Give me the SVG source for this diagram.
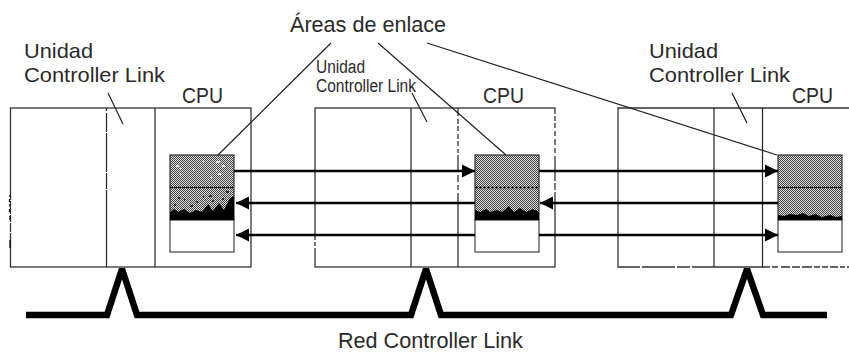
<svg xmlns="http://www.w3.org/2000/svg" width="849" height="352" viewBox="0 0 849 352">
<style>
text{font-family:"Liberation Sans",Arial,sans-serif;font-size:21.6px;fill:#2a2a2a}
.s{font-size:18px}
.u{font-size:21px}
.b{fill:none;stroke:#333;stroke-width:1.3}
.l{fill:none;stroke:#222;stroke-width:1.2}
.a{fill:url(#chk);stroke:#333;stroke-width:1.2}
.w{fill:#fff;stroke:#444;stroke-width:1.2}
.m{fill:none;stroke:#111;stroke-width:1.3;stroke-dasharray:3 1}
.k{fill:#000}
.e{fill:none;stroke:#fff;stroke-width:2}
.n{fill:none;stroke:#111;stroke-width:1.3}
.f{fill:none;stroke:#000;stroke-width:2.5}
.bus{fill:none;stroke:#000;stroke-width:6.5;stroke-miterlimit:3}
</style>
<defs>
<pattern id="chk" width="2" height="2" patternUnits="userSpaceOnUse"><rect width="2" height="2" fill="#ddd"/><rect width="1" height="1" fill="#444"/><rect x="1" y="1" width="1" height="1" fill="#444"/></pattern>
<marker id="h" markerWidth="14" markerHeight="14" refX="13" refY="7" orient="auto-start-reverse" markerUnits="userSpaceOnUse"><path d="M0 0.500L13 7L0 13.500Z" fill="#000"/></marker>
</defs>
<g id="node-plc-1">
<rect class="b" x="10.500" y="108" width="240.500" height="159"/>
<path class="l" d="M106.500 108V267M155 108V267"/>
<path class="e" d="M106.500 111v2M106.500 132v1M106.500 172v1M106.500 189v1M10.500 200v1M10.500 206v1M10.500 214v1M10.500 222v1M10.500 232v1"/>
<path class="n" d="M10 195v2M9.500 199v3M10 204v3M9.500 209v3M10 216v4M10 240v8"/>
<rect class="a" x="170" y="155" width="64" height="65"/>
<rect class="w" x="170" y="220" width="64" height="32"/>
<path class="m" d="M170 187.500H234"/>
<path class="k" d="M170 220V212L174 209L178 212L184 209L190 213L196 210L202 212L208 204L213 211L219 203L224 210L230 198L234 196V220Z"/>
<path class="n" d="M174 205h2M178 198h2M184 200h1M190 206h3M196 202h2M203 197h1M209 196h3M212 201h2M218 205h2M226 192h3M222 199h2"/>
<path d="M176 166h3M193 170h1M203 161h1M216 162h4M222 166h3M216 170h1M180 174h1M218 174h3M211 177h1M180 169h1" stroke="#fff" stroke-width="1.500" fill="none"/>
<text class="u" x="24" y="58" textLength="69" lengthAdjust="spacingAndGlyphs">Unidad</text>
<text class="u" x="24" y="82" textLength="141" lengthAdjust="spacingAndGlyphs">Controller Link</text>
<text x="182" y="103" textLength="41" lengthAdjust="spacingAndGlyphs">CPU</text>
<path class="l" d="M108 93L123 124"/>
</g>
<g id="node-plc-2">
<rect class="b" x="315" y="108" width="240" height="159"/>
<path class="l" d="M411 108V267M458 108V267"/>
<path class="e" d="M458 116v3M458 124v2M458 131v3M458 139v2M458 146v3M458 153v2M458 172v3M458 182v3M458 190v3M555 114v2M555 121v2M555 128v3M555 136v3M555 145v3M555 153v3M555 181v2M555 190v2M315 240v2M315 246v2"/>
<rect class="a" x="475" y="155" width="64" height="65"/>
<rect class="w" x="475" y="220" width="64" height="32"/>
<path class="m" d="M475 187.500H539"/>
<path class="k" d="M475 220V210L480 212L486 209L490 212L497 210L502 212L509 206L514 212L520 208L526 212L533 209L539 212V220Z"/>
<text class="s" x="316" y="73" textLength="49" lengthAdjust="spacingAndGlyphs">Unidad</text>
<text class="s" x="316" y="92" textLength="100" lengthAdjust="spacingAndGlyphs">Controller Link</text>
<text x="483" y="103" textLength="41" lengthAdjust="spacingAndGlyphs">CPU</text>
<path class="l" d="M412 93L427 122"/>
</g>
<g id="node-plc-3">
<path class="b" d="M849 108H618V267H849"/>
<path class="l" d="M714 108V267M762.500 108V267"/>
<path class="e" d="M770 267h2M778 267h3M790 267h2M800 267h2M812 267h2M820 267h2M828 267h2M838 267h2M845 267h2M640 267h2M675 267h2M690 267h2"/>
<rect class="a" x="778" y="155" width="64" height="65"/>
<rect class="w" x="778" y="220" width="64" height="32"/>
<path class="m" d="M778 187.500H842"/>
<path class="k" d="M778 220V215L784 216L790 214L797 215L803 213L809 216L815 214L822 217L830 215L836 217L842 216V220Z"/>
<text class="u" x="649" y="58" textLength="69" lengthAdjust="spacingAndGlyphs">Unidad</text>
<text class="u" x="649" y="82" textLength="141" lengthAdjust="spacingAndGlyphs">Controller Link</text>
<text x="792" y="103" textLength="41" lengthAdjust="spacingAndGlyphs">CPU</text>
<path class="l" d="M732 93L747 123"/>
</g>
<g id="connectors">
<path class="f" d="M234 171H475" marker-end="url(#h)"/>
<path class="f" d="M539 171H778" marker-end="url(#h)"/>
<path class="f" d="M475 203H236" marker-end="url(#h)"/>
<path class="f" d="M778 203H540" marker-end="url(#h)"/>
<path class="f" d="M475 235H236" marker-end="url(#h)"/>
<path class="f" d="M539 235H778" marker-end="url(#h)"/>
<path class="l" d="M218 155L331 43"/>
<path class="l" d="M506 155L378 43"/>
<path class="l" d="M777 155L427 43"/>
<path class="bus" d="M26 315H107L122 269L137 315H411L426 269L441 315H731L747 269L763 315H827"/>
</g>
<g id="labels">
<text x="290" y="32">Áreas de enlace</text>
<text x="338" y="347.500">Red Controller Link</text>
</g>
</svg>
